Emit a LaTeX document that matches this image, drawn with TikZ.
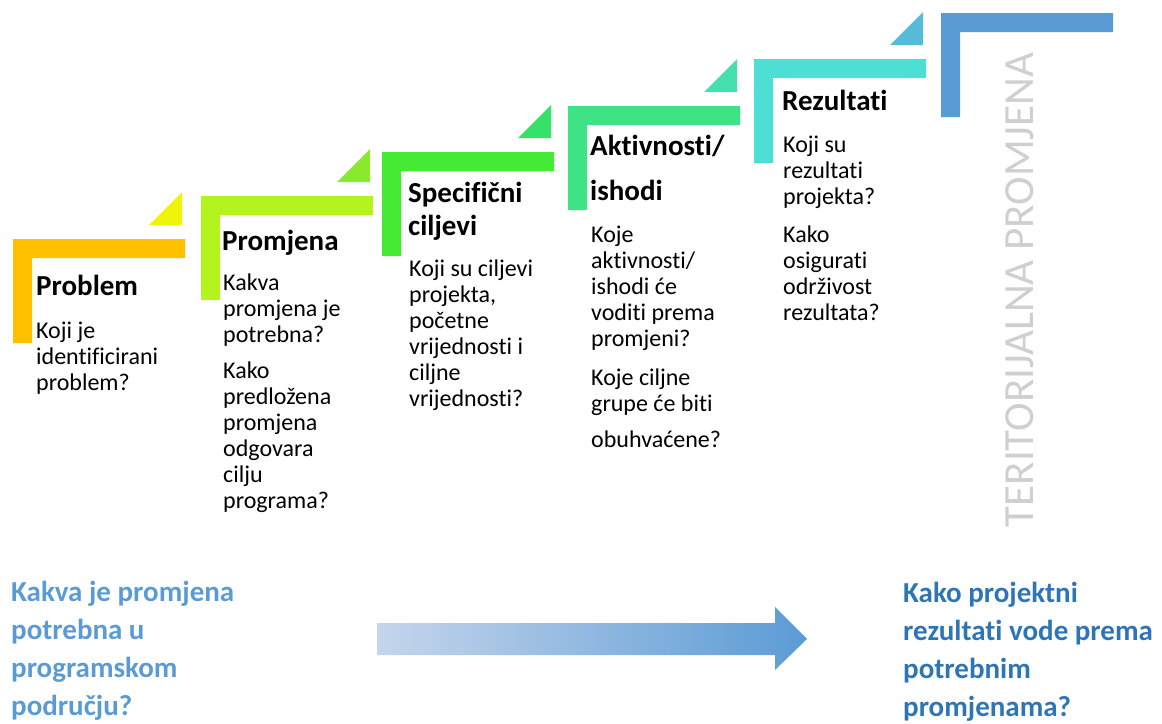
\documentclass[tikz,border=0pt]{standalone}
\usepackage{fontspec}
\setmainfont{Carlito}[Ligatures=NoCommon]
\definecolor{cOrange}{HTML}{FFC000}
\definecolor{tYellow}{HTML}{EEF508}
\definecolor{cLime}{HTML}{B4F41E}
\definecolor{tLime}{HTML}{8CE82E}
\definecolor{cGreen}{HTML}{44EA34}
\definecolor{tGreen}{HTML}{33E266}
\definecolor{cMint}{HTML}{3DE384}
\definecolor{tMint}{HTML}{45DFB0}
\definecolor{cTurq}{HTML}{4DDED4}
\definecolor{tTurq}{HTML}{55BBD8}
\definecolor{cBlue}{HTML}{5B9BD5}
\definecolor{cDarkBlue}{HTML}{2E75B6}
\definecolor{aLeft}{HTML}{C5D5EC}
\definecolor{aMid}{HTML}{A9BEE4}
\definecolor{vGray}{HTML}{CFCFCF}
\newcommand\stairL[3]{%
  \fill[#3] (#1,#2) -- (#1+172,#2) -- (#1+172,#2+19) -- (#1+19,#2+19) -- (#1+19,#2+104) -- (#1,#2+104) -- cycle;}
\newcommand\stairT[3]{%
  \fill[#3] (#1+169,#2-14) -- (#1+169,#2-47) -- (#1+136,#2-14) -- cycle;}
\tikzset{
  ttl/.style={anchor=base west, inner sep=0pt, font=\fontsize{29}{32}\selectfont\bfseries},
  body/.style={anchor=base west, inner sep=0pt, align=left, font=\fontsize{24}{26}\selectfont},
  qleft/.style={anchor=base west, inner sep=0pt, align=left, text=cBlue, font=\fontsize{29}{38}\selectfont\bfseries},
  qright/.style={anchor=base west, inner sep=0pt, align=left, text=cDarkBlue, font=\fontsize{29}{38}\selectfont\bfseries},
}
\begin{document}
\begin{tikzpicture}[x=1pt,y=-1pt]
\useasboundingbox (0,0) rectangle (1162,723);
% stairs
\stairL{13}{239}{cOrange}\stairT{13}{239}{tYellow}
\stairL{201}{196}{cLime}\stairT{201}{196}{tLime}
\stairL{382}{152}{cGreen}\stairT{382}{152}{tGreen}
\stairL{568}{106}{cMint}\stairT{568}{106}{tMint}
\stairL{754}{59}{cTurq}\stairT{754}{59}{tTurq}
\stairL{941}{13}{cBlue}
% step 1 (body nodes anchored at the baseline of their last line)
\node[ttl] (t1) at (36,295) {Problem};
\node[body] (b1) at (36,390) {Koji je\\identificirani\\problem?};
% step 2
\node[ttl] (t2) at (222,250) {Promjena};
\node[body] (b2) at (223,508) {Kakva\\promjena je\\potrebna?\\[10pt]Kako\\predložena\\promjena\\odgovara\\cilju\\programa?};
% step 3
\node[ttl] (t3) at (408,202) {Specifični};
\node[ttl] (t3b) at (408,235) {ciljevi};
\node[body] (b3) at (409,406) {Koji su ciljevi\\projekta,\\početne\\vrijednosti i\\ciljne\\vrijednosti?};
% step 4
\node[ttl] (t4) at (590,155) {Aktivnosti/};
\node[ttl] (t4b) at (590,200) {ishodi};
\node[body] (b4) at (591,447) {Koje\\aktivnosti/\\ishodi će\\voditi prema\\promjeni?\\[13pt]Koje ciljne\\grupe će biti\\[10pt]obuhvaćene?};
% step 5
\node[ttl] (t5) at (782,110) {Rezultati};
\node[body] (b5) at (783,320) {Koji su\\rezultati\\projekta?\\[12pt]Kako\\osigurati\\održivost\\rezultata?};
% vertical text
\node[rotate=90, text=vGray, inner sep=0pt, font=\fontsize{43}{48}\selectfont] (vt) at (1020,290) {TERITORIJALNA PROMJENA};
% bottom texts
\node[qleft] (ql) at (11,715) {Kakva je promjena\\potrebna u\\programskom\\području?};
\node[qright] (qr) at (903,716) {Kako projektni\\rezultati vode prema\\potrebnim\\promjenama?};
% arrow
\shade[left color=aLeft, middle color=aMid, right color=cBlue]
  (377,623) -- (775,623) -- (775,607) -- (807,639) -- (775,670) -- (775,655) -- (377,655) -- cycle;
\end{tikzpicture}
\end{document}
